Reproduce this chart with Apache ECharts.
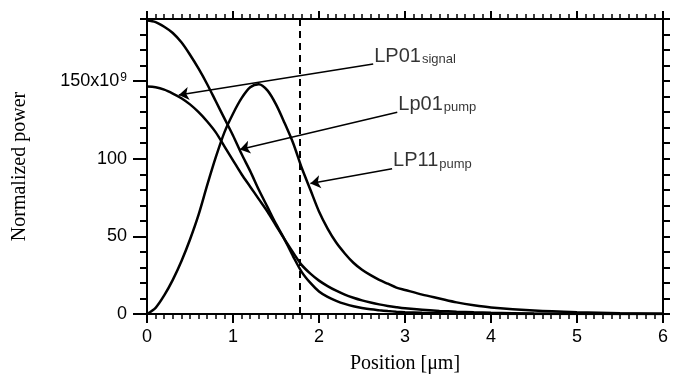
<!DOCTYPE html>
<html>
<head>
<meta charset="utf-8">
<title>Normalized power</title>
<script src="https://cdn.jsdelivr.net/npm/echarts@6/dist/echarts.min.js"></script>
<style>
html, body { margin: 0; padding: 0; background: #fff; }
#main { width: 685px; height: 382px; }
</style>
</head>
<body>
<div id="main"></div>
<script>
// radial position in micrometres, shared by the three curves
var positions = [0, 0.1, 0.2, 0.3, 0.4, 0.5, 0.6, 0.7, 0.8, 0.9, 1.0, 1.1, 1.2, 1.3, 1.4, 1.5, 1.6, 1.7, 1.8, 1.9,
  2.0, 2.1, 2.2, 2.3, 2.4, 2.5, 2.6, 2.7, 2.8, 2.9, 3.0, 3.2, 3.4, 3.6, 3.8, 4.0, 4.5, 5.0, 5.5, 6.0];

// normalized power, in units of 1e9
var lp01Pump = [189, 188, 185, 181, 175, 167, 158, 148, 137, 126, 115, 103, 92, 80, 69, 58, 48, 37, 27, 20,
  14.5, 11, 8.5, 6.5, 5, 3.9, 3, 2.4, 1.9, 1.5, 1.2, 0.75, 0.5, 0.3, 0.2, 0.12, 0.04, 0, 0, 0];
var lp01Signal = [146.5, 146, 144.5, 142, 139, 135, 130, 124, 117, 108, 99, 90, 82, 74, 66, 57, 48, 39.5, 31.5, 26,
  21.5, 18, 15, 12.5, 10.5, 8.8, 7.4, 6.2, 5.2, 4.4, 3.7, 2.7, 2, 1.5, 1.1, 0.8, 0.35, 0.15, 0.05, 0];
var lp11Pump = [0, 4, 12, 22, 34, 48, 64, 83, 101, 117, 129, 139, 146, 148, 144, 135, 123, 110, 94, 80,
  66, 55, 46, 39, 33, 28.5, 25, 22, 19.5, 17, 15.5, 12.5, 10, 7.5, 5.6, 4.2, 2.2, 1.1, 0.5, 0.2];

var coreRadius = 1.78;

var xTicks = [0, 1, 2, 3, 4, 5, 6];
var yTicks = [0, 50, 100, 150];

// callouts: text, subscript, text anchor, arrow tip
var calloutText = ['LP01', 'Lp01', 'LP11'];
var calloutSub = ['signal', 'pump', 'pump'];
var calloutFrom = [[2.63, 161], [2.91, 130], [2.85, 93.6]];
var calloutTo = [[0.37, 141], [1.08, 106], [1.9, 84]];

function pairs(values) {
  return positions.map(function (x, i) { return [x, values[i]]; });
}

var dom = document.getElementById('main');
var myChart = echarts.init(dom, null, { renderer: 'canvas' });

var ink = '#000';
var sans = 'Liberation Sans';
var serif = 'Liberation Serif';

function curve(name, values) {
  return {
    name: name,
    type: 'line',
    data: pairs(values),
    showSymbol: false,
    smooth: 0.3,
    lineStyle: { color: ink, width: 2.5 },
    z: 3
  };
}

var series = [
  curve('LP01 pump', lp01Pump),
  curve('LP01 signal', lp01Signal),
  curve('LP11 pump', lp11Pump)
];

series[0].markLine = {
  silent: true,
  symbol: 'none',
  label: { show: false },
  lineStyle: { color: ink, width: 2, type: [7, 5] },
  data: [{ xAxis: coreRadius }]
};

series.push({
  type: 'scatter',
  data: calloutFrom,
  symbolSize: 0,
  silent: true,
  label: {
    show: true,
    position: [1, -18],
    formatter: function (p) {
      return '{m|' + calloutText[p.dataIndex] + '}{s|' + calloutSub[p.dataIndex] + '}';
    },
    rich: {
      m: { fontFamily: sans, fontSize: 20, color: ink, lineHeight: 20, verticalAlign: 'top' },
      s: { fontFamily: sans, fontSize: 13, color: ink, lineHeight: 13, verticalAlign: 'bottom', padding: [9, 0, 0, 1] }
    }
  },
  markLine: {
    silent: true,
    symbol: ['none', 'arrow'],
    symbolSize: 10,
    label: { show: false },
    lineStyle: { color: ink, width: 1.5, type: 'solid' },
    itemStyle: { color: ink },
    data: calloutFrom.map(function (from, i) {
      return [{ coord: from }, { coord: calloutTo[i] }];
    })
  }
});

function xAxisDef(pos, showLabel, tickLen) {
  return {
    type: 'value',
    position: pos,
    min: 0,
    max: 6,
    interval: 1,
    axisLine: { show: true, onZero: false, lineStyle: { color: ink, width: 2 } },
    axisTick: { show: true, inside: false, length: tickLen, lineStyle: { color: ink, width: 2 } },
    minorTick: { show: true, splitNumber: 10, length: 5, lineStyle: { color: ink, width: 1.5 } },
    splitLine: { show: false },
    axisLabel: {
      show: showLabel,
      margin: 14,
      fontFamily: sans,
      fontSize: 18,
      color: ink,
      customValues: xTicks
    }
  };
}

var bottomAxis = xAxisDef('bottom', true, 9);
bottomAxis.name = 'Position [μm]';
bottomAxis.nameLocation = 'middle';
bottomAxis.nameGap = 40;
bottomAxis.nameTextStyle = { fontFamily: serif, fontSize: 20, color: ink };

option = {
  animation: false,
  backgroundColor: '#fff',
  grid: { left: 147, right: 22, top: 19, bottom: 68 },
  xAxis: [bottomAxis, xAxisDef('top', false, 8)],
  yAxis: [
    {
      type: 'value',
      position: 'left',
      min: 0,
      max: 190,
      interval: 10,
      name: 'Normalized power',
      nameLocation: 'middle',
      nameGap: 117,
      nameTextStyle: { fontFamily: serif, fontSize: 20, color: ink },
      axisLine: { show: true, onZero: false, lineStyle: { color: ink, width: 2 } },
      axisTick: { show: true, inside: false, length: 7, lineStyle: { color: ink, width: 2 } },
      splitLine: { show: false },
      axisLabel: {
        margin: 20,
        fontFamily: sans,
        fontSize: 18,
        color: ink,
        customValues: yTicks,
        formatter: function (value) {
          if (value === 150) {
            return '{n|150x10}{e|9}';
          }
          return value + '';
        },
        rich: {
          n: { fontFamily: sans, fontSize: 18, color: ink, lineHeight: 18, verticalAlign: 'bottom' },
          e: { fontFamily: sans, fontSize: 12, color: ink, lineHeight: 12, verticalAlign: 'top', padding: [0, 0, 8, 1] }
        }
      }
    },
    {
      type: 'value',
      position: 'left',
      min: 0,
      max: 190,
      axisLine: { show: false },
      axisTick: { show: true, inside: false, length: 14, customValues: yTicks, lineStyle: { color: ink, width: 2 } },
      axisLabel: { show: false },
      splitLine: { show: false }
    },
    {
      type: 'value',
      position: 'right',
      min: 0,
      max: 190,
      interval: 10,
      axisLine: { show: true, onZero: false, lineStyle: { color: ink, width: 2 } },
      axisTick: { show: true, inside: false, length: 7, lineStyle: { color: ink, width: 2 } },
      axisLabel: { show: false },
      splitLine: { show: false }
    }
  ],
  series: series
};

if (option && typeof option === 'object') {
  myChart.setOption(option);
}

window.addEventListener('resize', myChart.resize);
</script>
</body>
</html>
